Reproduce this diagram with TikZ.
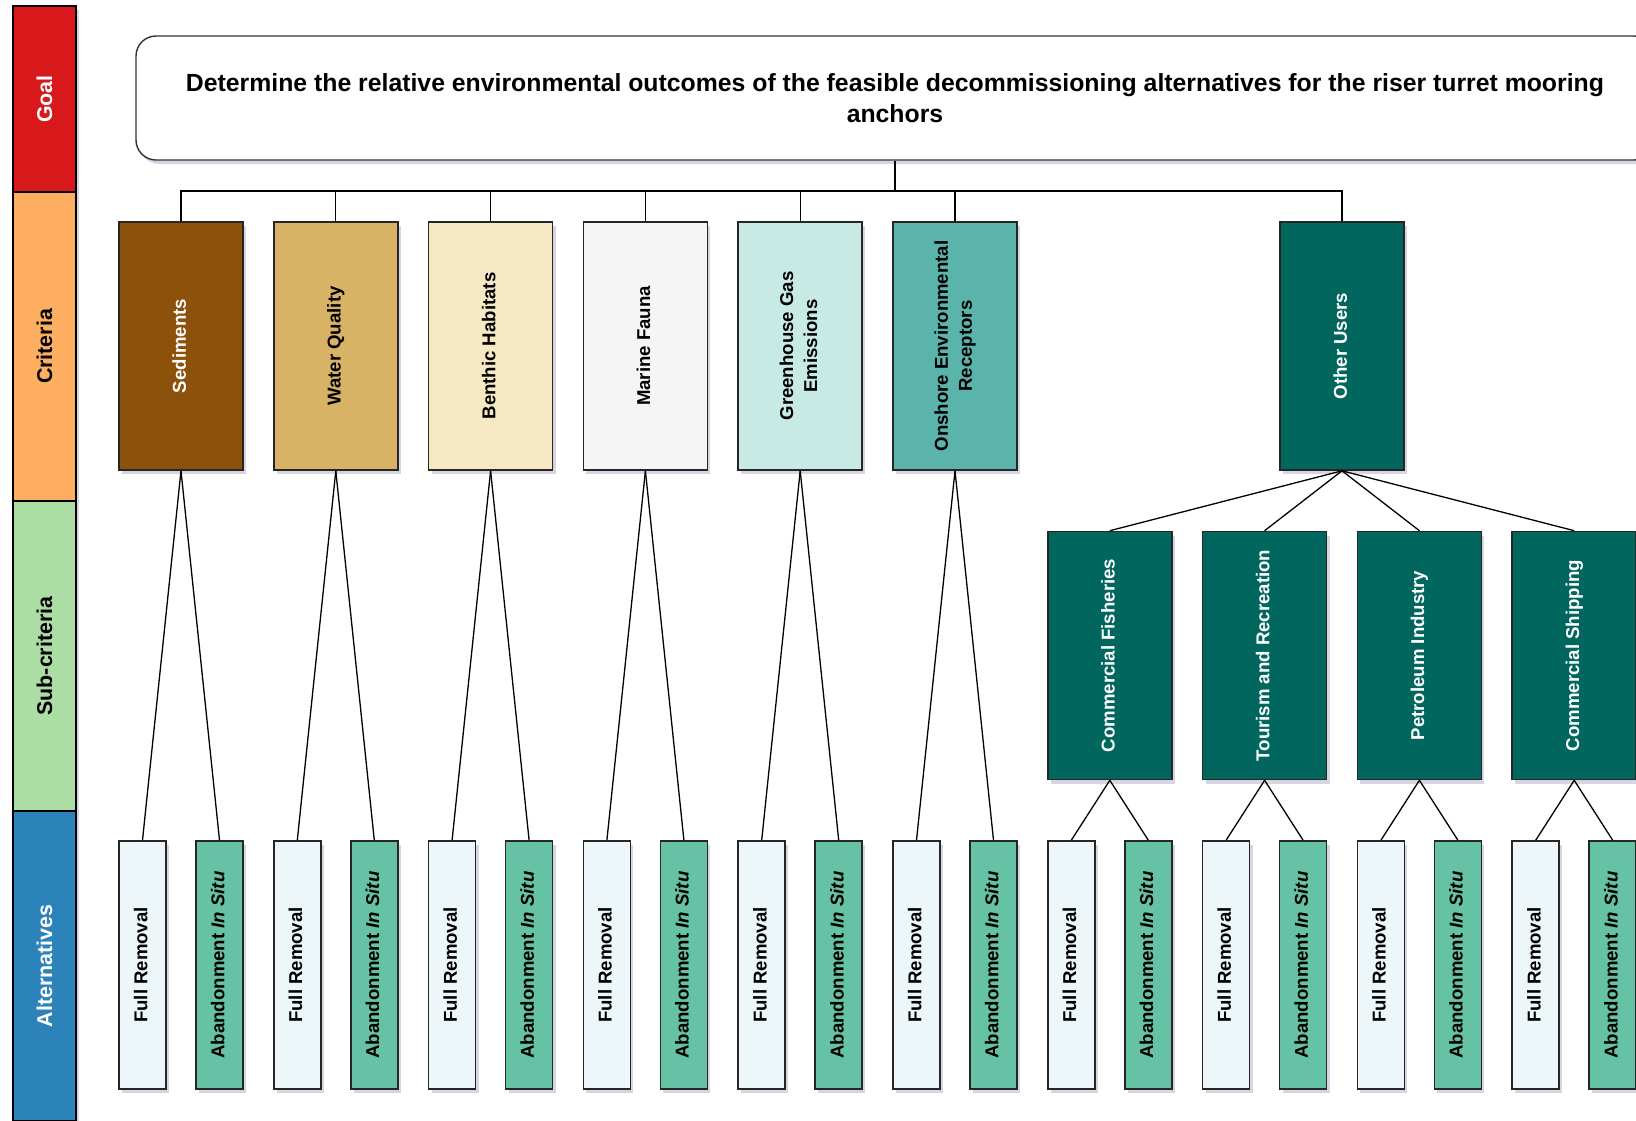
\documentclass[tikz,border=0pt]{standalone}
\usepackage{fontspec}
\setmainfont{Liberation Sans}
\usetikzlibrary{shadows}

\definecolor{goalred}{HTML}{D7191C}
\definecolor{critorange}{HTML}{FDAE61}
\definecolor{subgreen}{HTML}{ABDDA4}
\definecolor{altblue}{HTML}{2B83BA}
\definecolor{sedbrown}{HTML}{8C510A}
\definecolor{wqtan}{HTML}{D8B365}
\definecolor{benthcream}{HTML}{F6E8C3}
\definecolor{faunagrey}{HTML}{F5F5F5}
\definecolor{ghgmint}{HTML}{C7EAE5}
\definecolor{onsteal}{HTML}{5AB4AC}
\definecolor{userteal}{HTML}{01665E}
\definecolor{frpale}{HTML}{EDF7F9}
\definecolor{abgreen}{HTML}{66C2A5}
\definecolor{shadowc}{HTML}{B4B4CC}

\newcommand{\vtext}[1]{\rotatebox{90}{\begin{tabular}{@{}c@{}}#1\end{tabular}}}

\tikzset{
  softshadow/.style={drop shadow={shadow xshift=3pt, shadow yshift=-4pt, opacity=.55, fill=shadowc}},
  band/.style={draw=black, line width=1.6pt, minimum width=63pt, inner sep=0pt,
    font=\bfseries\fontsize{21.4}{26}\selectfont},
  goalbox/.style={draw=black!80, line width=1.4pt, rounded corners=20pt, fill=white, softshadow,
    minimum width=1518pt, minimum height=124pt, align=center,
    font=\bfseries\fontsize{24.8}{30.5}\selectfont},
  crit/.style={draw=black!85, line width=1.6pt, softshadow, minimum width=124pt, minimum height=248pt,
    inner sep=0pt, font=\bfseries\fontsize{18.6}{24}\selectfont},
  alt/.style={crit, minimum width=47pt},
  frbox/.style={alt, fill=frpale},
  abbox/.style={alt, fill=abgreen},
  link/.style={draw=black, line width=1.3pt}
}

\begin{document}
\begin{tikzpicture}[x=1pt, y=-1pt]
\useasboundingbox (0,0) rectangle (1636,1120);
\clip (0,0) rectangle (1636,1120);

% level bar on the left
\fill[shadowc, opacity=.55] (16,10) rectangle (79,1130);
\node[band, fill=goalred, text=white, minimum height=186pt] (lgoal) at (44.5,99) {\rotatebox{90}{Goal}};
\node[band, fill=critorange, minimum height=309pt] (lcrit) at (44.5,346.5) {\rotatebox{90}{Criteria}};
\node[band, fill=subgreen, minimum height=310pt] (lsub) at (44.5,656) {\rotatebox{90}{Sub-criteria}};
\node[band, fill=altblue, text=white, minimum height=310pt] (lalt) at (44.5,966) {\rotatebox{90}{Alternatives}};

% goal
\node[goalbox] (goal) at (895,98) {Determine the relative environmental outcomes of the feasible decommissioning alternatives for the riser turret mooring\\anchors};

% criteria
\node[crit, fill=sedbrown, text=white] (sed) at (181,346) {\vtext{Sediments}};
\node[crit, fill=wqtan] (wq) at (335.8,346) {\vtext{Water Quality}};
\node[crit, fill=benthcream] (ben) at (490.6,346) {\vtext{Benthic Habitats}};
\node[crit, fill=faunagrey] (fau) at (645.4,346) {\vtext{Marine Fauna}};
\node[crit, fill=ghgmint] (ghg) at (800.2,346) {\vtext{Greenhouse Gas\\Emissions}};
\node[crit, fill=onsteal] (ons) at (955,346) {\vtext{Onshore Environmental\\Receptors}};
\node[crit, fill=userteal, text=white] (oth) at (1342,346) {\vtext{Other Users}};

% sub-criteria
\node[crit, fill=userteal, text=white] (fish) at (1109.8,655.5) {\vtext{Commercial Fisheries}};
\node[crit, fill=userteal, text=white] (tour) at (1264.6,655.5) {\vtext{Tourism and Recreation}};
\node[crit, fill=userteal, text=white] (pet) at (1419.4,655.5) {\vtext{Petroleum Industry}};
\node[crit, fill=userteal, text=white] (ship) at (1574.2,655.5) {\vtext{Commercial Shipping}};

\coordinate (bus) at (goal.south |- 0,191);
\draw[link] (goal.south) -- (bus);
\foreach \c in {sed,wq,ben,fau,ghg,ons,oth}
  \draw[link] (\c.north) |- (bus);
\foreach \s in {fish,tour,pet,ship}
  \draw[link] (oth.south) -- (\s.north);

% alternatives
\foreach \p in {sed,wq,ben,fau,ghg,ons,fish,tour,pet,ship}{
  \node[frbox, anchor=west] (\p-fr) at (\p.west |- 0,965) {\vtext{Full Removal}};
  \node[abbox, anchor=east] (\p-ab) at (\p.east |- 0,965) {\vtext{Abandonment \textit{In Situ}}};
  \draw[link] (\p.south) -- (\p-fr.north);
  \draw[link] (\p.south) -- (\p-ab.north);
}
\end{tikzpicture}
\end{document}
